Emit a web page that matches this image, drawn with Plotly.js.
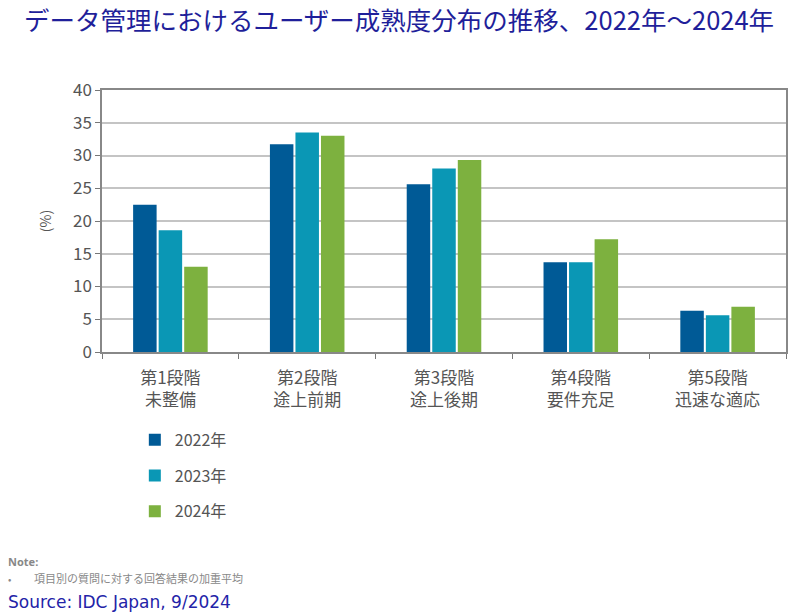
<!DOCTYPE html>
<html>
<head>
<meta charset="utf-8">
<script src="https://cdn.plot.ly/plotly-3.0.1.min.js"></script>
<style>
  html, body { margin: 0; padding: 0; background: #fff; }
  #chart { width: 796px; height: 615px; }
</style>
</head>
<body>
<div id="chart"></div>
<script>
// stages of data management maturity
const stages = [
  '第1段階<br>未整備',
  '第2段階<br>途上前期',
  '第3段階<br>途上後期',
  '第4段階<br>要件充足',
  '第5段階<br>迅速な適応'
];
const years = ['2022年', '2023年', '2024年'];
const share2022 = [22.5, 31.7, 25.6, 13.7, 6.3];
const share2023 = [18.6, 33.5, 28.0, 13.7, 5.6];
const share2024 = [13.0, 33.0, 29.3, 17.2, 6.9];
const yTicks = [0, 5, 10, 15, 20, 25, 30, 35, 40];

const jpFont = '"Noto Sans CJK JP", "Noto Sans", sans-serif';
const colors = ['#005a96', '#0a97b5', '#7db13f'];

const series = [share2022, share2023, share2024];
const data = series.map((vals, i) => ({
  type: 'bar',
  name: years[i],
  x: stages,
  y: vals,
  marker: { color: colors[i] },
  legendgroup: 'g' + i,
  hoverinfo: 'y+name'
}));

const layout = {
  width: 796,
  height: 615,
  paper_bgcolor: '#fff',
  plot_bgcolor: '#fff',
  margin: { l: 102, r: 10, t: 90, b: 263 },
  font: { family: jpFont, color: '#555' },
  title: {
    text: 'データ管理におけるユーザー成熟度分布の推移、2022年～2024年',
    font: { family: jpFont, size: 25.5, color: '#1f1f9a' },
    xref: 'container', yref: 'container',
    x: 0.03, xanchor: 'left',
    y: 0.965, yanchor: 'middle'
  },
  barmode: 'group',
  bargap: 0.44,
  bargroupgap: 0.08,
  xaxis: {
    tickson: 'boundaries',
    ticks: 'outside',
    ticklen: 5,
    tickcolor: '#777',
    showline: true,
    linecolor: '#888',
    linewidth: 1.5,
    mirror: true,
    ticklabelstandoff: 10,
    tickfont: { family: jpFont, size: 17, color: '#555' },
    showgrid: false
  },
  yaxis: {
    range: [0, 40],
    tickvals: yTicks,
    ticks: 'outside',
    ticklen: 5,
    tickcolor: '#777',
    showline: true,
    linecolor: '#888',
    linewidth: 1.5,
    mirror: true,
    gridcolor: '#c4c4c4',
    gridwidth: 1.5,
    zeroline: false,
    tickfont: { family: jpFont, size: 17, color: '#555' },
    title: { text: '(%)', font: { family: jpFont, size: 14, color: '#555' }, standoff: 18 }
  },
  showlegend: true,
  legend: {
    orientation: 'v',
    x: 0.048, xanchor: 'left',
    y: -0.27, yanchor: 'top',
    tracegroupgap: 12,
    font: { family: jpFont, size: 16, color: '#555' },
    traceorder: 'grouped'
  },
  annotations: [
    {
      text: '<b>Note:</b>',
      xref: 'paper', yref: 'paper',
      x: -0.14, y: -0.80, xanchor: 'left', yanchor: 'middle',
      showarrow: false,
      font: { family: 'Noto Sans, sans-serif', size: 11, color: '#888' }
    },
    {
      text: '•',
      xref: 'paper', yref: 'paper',
      x: -0.14, y: -0.864, xanchor: 'left', yanchor: 'middle',
      showarrow: false,
      font: { family: jpFont, size: 10, color: '#888' }
    },
    {
      text: '項目別の質問に対する回答結果の加重平均',
      xref: 'paper', yref: 'paper',
      x: -0.103, y: -0.864, xanchor: 'left', yanchor: 'middle',
      showarrow: false,
      font: { family: jpFont, size: 11, color: '#888' }
    },
    {
      text: 'Source: IDC Japan, 9/2024',
      xref: 'paper', yref: 'paper',
      x: -0.141, y: -0.955, xanchor: 'left', yanchor: 'middle',
      showarrow: false,
      font: { family: 'DejaVu Sans, sans-serif', size: 17, color: '#2323a8' }
    }
  ]
};

Plotly.newPlot('chart', data, layout, { displayModeBar: false, responsive: false });
</script>
</body>
</html>
